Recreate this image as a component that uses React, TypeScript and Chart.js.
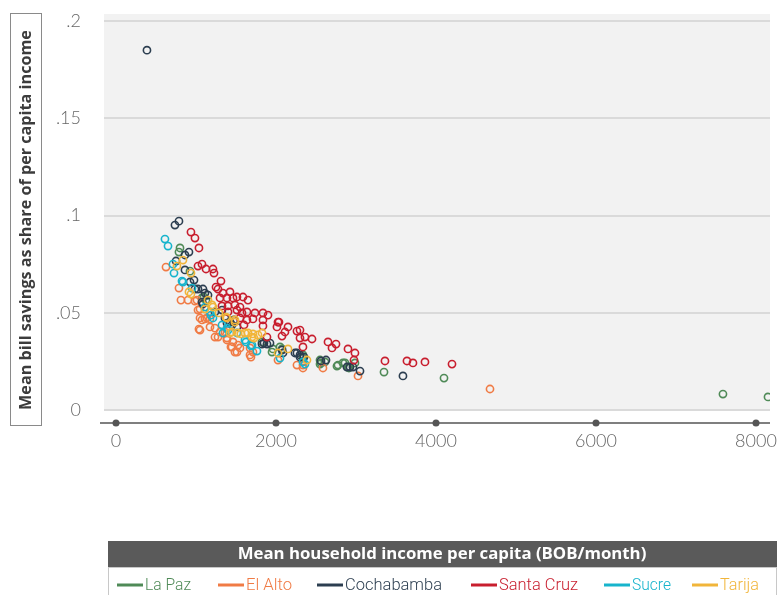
import React, { useEffect, useRef } from 'react';
import { Chart, registerables } from 'chart.js';
Chart.register(...registerables);

const cities = ['La Paz', 'El Alto', 'Cochabamba', 'Santa Cruz', 'Sucre', 'Tarija'];
const cityColors = ['#4f8a57', '#f07b45', '#2c3e50', '#c81e2e', '#17b4cc', '#f1b53a'];

// [income (BOB/month), bill savings share]
const laPaz: [number, number][] = [
  [800, 0.0833], [787, 0.0812], [925, 0.0714], [1075, 0.0576], [1100, 0.0581], [1125, 0.0565],
  [1425, 0.0452], [1825, 0.035], [1962, 0.0314], [2050, 0.0324], [1950, 0.0298], [2075, 0.0314],
  [2337, 0.0283], [2337, 0.0267], [2550, 0.0257], [2562, 0.0242], [2612, 0.0247], [2550, 0.0236],
  [2762, 0.0226], [2775, 0.0231], [2837, 0.0242], [2862, 0.0242], [2900, 0.0221], [2912, 0.0216],
  [2987, 0.0242], [3350, 0.0195], [4100, 0.0164], [7587, 0.0082], [8150, 0.0067],
];
const elAlto: [number, number][] = [
  [625, 0.0735], [787, 0.0627], [812, 0.0565], [900, 0.0565], [987, 0.056], [1012, 0.0565],
  [1025, 0.0514], [1050, 0.0473], [1075, 0.0463], [1137, 0.0473], [1050, 0.0411], [1037, 0.0416],
  [1175, 0.0427], [1237, 0.0421], [1275, 0.0375], [1362, 0.0401], [1387, 0.036], [1387, 0.037],
  [1462, 0.035], [1450, 0.0324], [1550, 0.0319], [1512, 0.0298], [1675, 0.0319], [1675, 0.0283],
  [1712, 0.0298], [1687, 0.0272], [2025, 0.0257], [2262, 0.0231], [2337, 0.0231], [2337, 0.0216],
  [2587, 0.0216], [3025, 0.0175], [4675, 0.0108], [1300, 0.0401], [1237, 0.0375], [1437, 0.0324],
  [1487, 0.0298], [1525, 0.0334], [1050, 0.0519], [1112, 0.0468], [1175, 0.0468],
];
const cochabamba: [number, number][] = [
  [387, 0.185], [787, 0.0971], [737, 0.0951], [912, 0.0812], [862, 0.0797], [750, 0.0766],
  [862, 0.072], [975, 0.0668], [925, 0.0658], [987, 0.0622], [1025, 0.0622], [1087, 0.0622],
  [1112, 0.0601], [1150, 0.0591], [1075, 0.0555], [1087, 0.0545], [1237, 0.0504], [1325, 0.0514],
  [1362, 0.0473], [1425, 0.0452], [1475, 0.0463], [1387, 0.0447], [1450, 0.0437], [1512, 0.0427],
  [1850, 0.0344], [1925, 0.0344], [1825, 0.0339], [1887, 0.0339], [2075, 0.0308], [2087, 0.0293],
  [2237, 0.0293], [2262, 0.0293], [2300, 0.0283], [2350, 0.0272], [2300, 0.0272], [2562, 0.0252],
  [2625, 0.0257], [2887, 0.0221], [2925, 0.0221], [2962, 0.0221], [3050, 0.02], [3587, 0.0175],
];
const santaCruz: [number, number][] = [
  [937, 0.0915], [987, 0.0884], [1037, 0.0833], [1025, 0.074], [1075, 0.075], [1125, 0.0725],
  [1212, 0.0725], [1225, 0.0704], [1312, 0.0663], [1250, 0.0632], [1275, 0.0622], [1337, 0.0601],
  [1425, 0.0607], [1300, 0.0576], [1387, 0.0576], [1462, 0.0576], [1512, 0.0581], [1587, 0.0581],
  [1650, 0.0565], [1325, 0.0535], [1400, 0.0535], [1487, 0.054], [1550, 0.0529], [1400, 0.0504],
  [1512, 0.0514], [1575, 0.0499], [1637, 0.0504], [1737, 0.0499], [1837, 0.0499], [1900, 0.0488],
  [1550, 0.0473], [1637, 0.0463], [1712, 0.0468], [1837, 0.0463], [2025, 0.0452], [2150, 0.0427],
  [2012, 0.0427], [2262, 0.0406], [2112, 0.0401], [2362, 0.0375], [2300, 0.037], [2450, 0.0365],
  [1887, 0.0375], [2075, 0.038], [2337, 0.0324], [2650, 0.035], [2750, 0.0339], [2700, 0.0319],
  [2900, 0.0314], [2987, 0.0293], [2975, 0.0257], [3362, 0.0252], [3637, 0.0252], [3712, 0.0242],
  [3862, 0.0247], [4200, 0.0236], [2300, 0.0411], [1600, 0.0437], [1837, 0.0432], [2037, 0.0452],
];
const sucre: [number, number][] = [
  [612, 0.0879], [650, 0.0843], [712, 0.075], [725, 0.0704], [825, 0.0663], [837, 0.0658],
  [950, 0.0627], [1112, 0.0529], [1175, 0.0504], [1187, 0.0488], [1212, 0.0473], [1325, 0.0437],
  [1337, 0.0396], [1387, 0.0421], [1400, 0.0411], [1512, 0.0396], [1612, 0.036], [1625, 0.035],
  [1687, 0.033], [1700, 0.0334], [1762, 0.0303], [2050, 0.0267], [2337, 0.0247], [2362, 0.0236],
];
const tarija: [number, number][] = [
  [837, 0.0771], [762, 0.074], [937, 0.0704], [912, 0.0607], [937, 0.0596], [1150, 0.0565],
  [1200, 0.054], [1212, 0.0529], [1112, 0.0519], [1287, 0.0499], [1375, 0.0478], [1387, 0.0473],
  [1487, 0.0463], [1487, 0.0452], [1425, 0.0396], [1450, 0.0401], [1525, 0.0396], [1612, 0.0396],
  [1650, 0.0396], [1700, 0.0375], [1712, 0.0391], [1725, 0.037], [1775, 0.0386], [1825, 0.0396],
  [2025, 0.0293], [2150, 0.0314], [2387, 0.0257], [1560, 0.0391],
];
const seriesData = [laPaz, elAlto, cochabamba, santaCruz, sucre, tarija];

const xTicks = [0, 2000, 4000, 6000, 8000];
const xTickLabels = ['0', '2000', '4000', '6000', '8000'];
const yTicks = [0, 0.05, 0.1, 0.15, 0.2];
const yTickLabels = ['0', '.05', '.1', '.15', '.2'];
const yTitle = 'Mean bill savings as share of per capita income';
const xTitle = 'Mean household income per capita (BOB/month)';

// layout for the custom legend row (left x of each legend line, and text width)
const legendLineX = [117, 218, 317, 471, 604, 692];
const legendTextW = [46, 46, 97, 79, 39, 39];

function fitFont(ctx: CanvasRenderingContext2D, text: string, weight: string, family: string, target: number) {
  ctx.font = `${weight} 20px ${family}`;
  const w = ctx.measureText(text).width;
  const size = (20 * target) / w;
  ctx.font = `${weight} ${size}px ${family}`;
}

const decor = {
  id: 'decor',
  beforeDraw(chart: any) {
    const { ctx, chartArea: a } = chart;
    ctx.save();
    ctx.fillStyle = '#f2f2f2';
    ctx.fillRect(a.left, a.top, a.right - a.left, a.bottom - a.top);
    ctx.restore();
  },
  afterDraw(chart: any) {
    const { ctx, chartArea: a, scales } = chart;
    const xs = scales.x;
    const ys = scales.y;
    ctx.save();
    // x axis line with dots
    const ay = a.bottom + 13;
    ctx.strokeStyle = '#555555';
    ctx.lineWidth = 1.5;
    ctx.beginPath();
    ctx.moveTo(a.left - 4, ay);
    ctx.lineTo(a.right, ay);
    ctx.stroke();
    ctx.fillStyle = '#555555';
    xTicks.forEach((v) => {
      const px = xs.getPixelForValue(v);
      ctx.beginPath();
      ctx.arc(px, ay, 3.5, 0, Math.PI * 2);
      ctx.fill();
    });

    // tick labels
    ctx.font = '300 18px Lato, sans-serif';
    ctx.fillStyle = '#666666';
    ctx.textBaseline = 'middle';
    ctx.textAlign = 'center';
    xTicks.forEach((v, i) => {
      ctx.fillText(xTickLabels[i], xs.getPixelForValue(v), ay + 18);
    });
    ctx.textAlign = 'right';
    yTicks.forEach((v, i) => {
      ctx.fillText(yTickLabels[i], 81, ys.getPixelForValue(v));
    });

    // y title box
    ctx.strokeStyle = '#8a8a8a';
    ctx.lineWidth = 1;
    ctx.strokeRect(10.5, 13.5, 31, 412);
    ctx.save();
    ctx.translate(26, 220);
    ctx.rotate(-Math.PI / 2);
    fitFont(ctx, yTitle, 'bold', '"Open Sans", sans-serif', 380);
    ctx.fillStyle = '#3c3c3c';
    ctx.textAlign = 'center';
    ctx.textBaseline = 'middle';
    ctx.fillText(yTitle, 0, 0);
    ctx.restore();

    // legend header
    ctx.fillStyle = '#5a5a5a';
    ctx.fillRect(108, 541, 669, 26);
    fitFont(ctx, xTitle, 'bold', '"Open Sans", sans-serif', 409);
    ctx.fillStyle = '#ffffff';
    ctx.textAlign = 'center';
    ctx.textBaseline = 'middle';
    ctx.fillText(xTitle, 442, 554);
    // legend body
    ctx.strokeStyle = '#c8c8c8';
    ctx.strokeRect(108.5, 567.5, 668, 40);
    ctx.textAlign = 'left';
    cities.forEach((c, i) => {
      const lx = legendLineX[i];
      ctx.strokeStyle = cityColors[i];
      ctx.lineWidth = 3;
      ctx.beginPath();
      ctx.moveTo(lx, 585);
      ctx.lineTo(lx + 26, 585);
      ctx.stroke();
      ctx.font = '300 17px Roboto, sans-serif';
      const w = ctx.measureText(c).width;
      ctx.save();
      ctx.translate(lx + 28, 585);
      ctx.scale(legendTextW[i] / w, 1);
      ctx.fillStyle = cityColors[i];
      ctx.fillText(c, 0, 1);
      ctx.restore();
    });
    ctx.restore();
  },
};

export default function App() {
  const ref = useRef<HTMLCanvasElement>(null);
  useEffect(() => {
    if (!ref.current) return;
    const chart = new Chart(ref.current, {
      type: 'scatter',
      data: {
        datasets: cities.map((c, i) => ({
          label: c,
          data: seriesData[i].map(([x, y]) => ({ x, y })),
          borderColor: cityColors[i],
          backgroundColor: 'rgba(0,0,0,0)',
          pointRadius: 3.6,
          pointBorderWidth: 1.6,
          order: cities.length - i,
        })),
      },
      options: {
        animation: false,
        responsive: true,
        maintainAspectRatio: false,
        layout: { autoPadding: false, padding: { top: 14, right: 13, left: 0, bottom: 0 } },
        plugins: { legend: { display: false }, tooltip: { enabled: false } },
        scales: {
          x: {
            type: 'linear',
            min: -150,
            max: 8175,
            grid: { display: false, drawTicks: false },
            border: { display: false },
            afterBuildTicks: (s: any) => {
              s.ticks = xTicks.map((v) => ({ value: v }));
            },
            afterFit: (s: any) => {
              s.height = 185;
            },
            ticks: { display: false },
          },
          y: {
            type: 'linear',
            min: 0,
            max: 0.2036,
            grid: { color: '#dadada', lineWidth: 2, drawTicks: false },
            border: { display: false },
            afterBuildTicks: (s: any) => {
              s.ticks = yTicks.map((v) => ({ value: v }));
            },
            afterFit: (s: any) => {
              s.width = 104;
            },
            ticks: { display: false },
          },
        },
      },
      plugins: [decor],
    });
    return () => chart.destroy();
  }, []);
  return (
    <div style={{ position: 'fixed', left: 0, top: 0, width: 783, height: 595, background: '#ffffff' }}>
      <canvas ref={ref} />
    </div>
  );
}
